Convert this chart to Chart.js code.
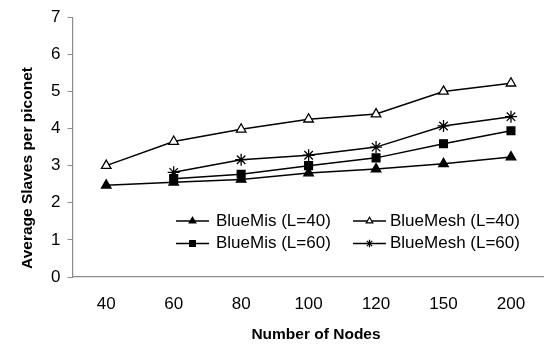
<!DOCTYPE html>
<html>
<head>
<meta charset="utf-8">
<script src="https://cdn.jsdelivr.net/npm/chart.js@4"></script>
<style>
  html, body { margin: 0; padding: 0; background: #fff; overflow: hidden; }
  #wrap { width: 552px; height: 347px; }
</style>
</head>
<body>
<div id="wrap"><canvas id="chart" width="552" height="347"></canvas></div>
<script>
const nodes = ['40', '60', '80', '100', '120', '150', '200'];
const yTicks = [0, 1, 2, 3, 4, 5, 6, 7];

const blueMis40 = [2.47, 2.55, 2.63, 2.8, 2.91, 3.05, 3.23];
const blueMesh40 = [3.0, 3.65, 3.98, 4.25, 4.39, 5.0, 5.22];
const blueMis60 = [null, 2.65, 2.77, 3.0, 3.21, 3.59, 3.94];
const blueMesh60 = [null, 2.82, 3.16, 3.28, 3.5, 4.07, 4.32];

const FONT = '"Liberation Sans", Arial, sans-serif';

function series(label, values, style, fill, radius) {
    return {
        label: label,
        data: values,
        borderColor: '#000',
        borderWidth: 1.5,
        pointStyle: style,
        pointRadius: radius,
        pointBorderColor: '#000',
        pointBackgroundColor: fill,
        pointBorderWidth: 1.3,
        tension: 0,
        spanGaps: false
    };
}

// legend slots: [line start x, text x, centre y]
const legendSlots = [
    [176, 216, 221],
    [353, 390, 221],
    [176, 216, 243.5],
    [353, 390, 243.5]
];

const legendAndTitles = {
    id: 'legendAndTitles',
    afterDraw(chart) {
        const ctx = chart.ctx;
        ctx.save();
        chart.data.datasets.forEach((ds, i) => {
            const [x0, tx, y] = legendSlots[i];
            ctx.strokeStyle = '#000';
            ctx.lineWidth = 1.5;
            ctx.beginPath();
            ctx.moveTo(x0, y);
            ctx.lineTo(x0 + 33, y);
            ctx.stroke();
            ctx.fillStyle = ds.pointBackgroundColor;
            ctx.strokeStyle = '#000';
            ctx.lineWidth = 1.2;
            Chart.helpers.drawPoint(ctx, {
                pointStyle: ds.pointStyle,
                radius: ds.pointStyle === 'rect' ? 4 : 3.8,
                borderWidth: 1.2,
                rotation: 0
            }, x0 + 16.5, y);
            ctx.fillStyle = '#000';
            ctx.font = '17px ' + FONT;
            ctx.textAlign = 'left';
            ctx.textBaseline = 'middle';
            ctx.fillText(ds.label, tx, y);
        });

        ctx.font = 'bold 15.5px ' + FONT;
        ctx.fillStyle = '#000';
        ctx.textAlign = 'center';
        ctx.textBaseline = 'middle';
        ctx.fillText('Number of Nodes', 316, 335);

        ctx.translate(27.5, 168);
        ctx.rotate(-Math.PI / 2);
        ctx.fillText('Average Slaves per piconet', 0, 0);
        ctx.restore();
    }
};

const config = {
    type: 'line',
    data: {
        labels: nodes,
        datasets: [
            series('BlueMis (L=40)', blueMis40, 'triangle', '#000', 5.5),
            series('BlueMesh (L=40)', blueMesh40, 'triangle', '#fff', 5.5),
            series('BlueMis (L=60)', blueMis60, 'rect', '#000', 5.5),
            series('BlueMesh (L=60)', blueMesh60, 'star', '#000', 6)
        ]
    },
    options: {
        responsive: false,
        animation: false,
        layout: {
            padding: { top: 17, right: 1, left: 0, bottom: 0 }
        },
        scales: {
            x: {
                offset: true,
                grid: { display: false, drawTicks: false },
                border: { display: true, color: '#8c8c8c', width: 1.2 },
                ticks: {
                    color: '#000',
                    font: { family: FONT, size: 17 },
                    padding: 17,
                    maxRotation: 0
                },
                afterFit(scale) { scale.height = 70; }
            },
            y: {
                min: 0,
                max: 7,
                afterBuildTicks(scale) {
                    scale.ticks = yTicks.map(v => ({ value: v }));
                },
                grid: {
                    display: true,
                    drawOnChartArea: false,
                    drawTicks: true,
                    tickLength: 5,
                    color: '#8c8c8c'
                },
                border: { display: true, color: '#8c8c8c', width: 1.2 },
                ticks: {
                    color: '#000',
                    font: { family: FONT, size: 17 },
                    padding: 7
                },
                afterFit(scale) { scale.width = 72.5; }
            }
        },
        plugins: {
            legend: { display: false },
            tooltip: { enabled: false }
        }
    },
    plugins: [legendAndTitles]
};

new Chart(document.getElementById('chart').getContext('2d'), config);
</script>
</body>
</html>
